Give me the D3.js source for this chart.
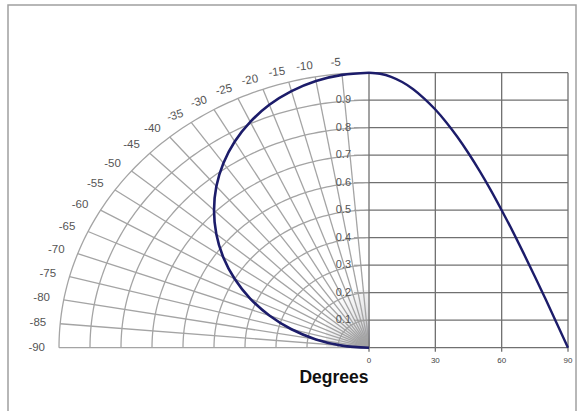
<!DOCTYPE html>
<html><head><meta charset="utf-8">
<script src="https://cdn.jsdelivr.net/npm/d3@7"></script>
<style>html,body{margin:0;padding:0;background:#fff;}svg{display:block;}</style>
</head><body>
<svg id="c" width="578" height="411"></svg>
<script>
// Data
const angles = [0,5,10,15,20,25,30,35,40,45,50,55,60,65,70,75,80,85,90];
const intensity = [1.000,0.996,0.985,0.966,0.940,0.906,0.866,0.819,0.766,0.707,0.643,0.574,0.500,0.423,0.342,0.259,0.174,0.087,0.000];
const polarAngleTicks = [-90,-85,-80,-75,-70,-65,-60,-55,-50,-45,-40,-35,-30,-25,-20,-15,-10,-5];
const radiusTicks = [0.1,0.2,0.3,0.4,0.5,0.6,0.7,0.8,0.9,1.0];
const radiusLabels = [0.1,0.2,0.3,0.4,0.5,0.6,0.7,0.8,0.9];
const xTicks = [0,30,60,90];
const xLabel = "Degrees";

const svg = d3.select("#c");
const x0 = 369, y0 = 347.7;
const x = d3.scaleLinear().domain([0,90]).range([x0,568]);
const y = d3.scaleLinear().domain([0,1]).range([y0,72.7]);
const rx = d3.scaleLinear().domain([0,1]).range([0,310]);
const ry = d3.scaleLinear().domain([0,1]).range([0,275]);
const rad = d => d*Math.PI/180;
const px = (a,r) => x0 + rx(r)*Math.sin(rad(a));
const py = (a,r) => y0 - ry(r)*Math.cos(rad(a));

// frame
svg.append("rect").attr("x",8).attr("y",5).attr("width",568).attr("height",410)
  .attr("fill","none").attr("stroke","#a0a0a0").attr("stroke-width",1.5);

// shaded area near origin
const defs = svg.append("defs");
const g1 = defs.append("linearGradient").attr("id","sh").attr("x1",0).attr("y1",0).attr("x2",1).attr("y2",1);
g1.append("stop").attr("offset","0%").attr("stop-color","#fff").attr("stop-opacity",0);
g1.append("stop").attr("offset","70%").attr("stop-color","#c8c8cc").attr("stop-opacity",0.6);
g1.append("stop").attr("offset","100%").attr("stop-color","#707090").attr("stop-opacity",0.8);
svg.append("rect").attr("x",326).attr("y",290).attr("width",44).attr("height",58).attr("fill","url(#sh)");

// polar grid arcs
const gridG = svg.append("g").attr("stroke","#a4a4a4").attr("stroke-width",1.3).attr("fill","none");
const arcAngles = d3.range(-90,0.1,1);
radiusTicks.forEach(r=>{
  gridG.append("path").attr("d", d3.line()(arcAngles.map(a=>[px(a,r),py(a,r)])));
});
// radial lines
polarAngleTicks.forEach(a=>{
  gridG.append("line").attr("x1",x0).attr("y1",y0).attr("x2",px(a,1)).attr("y2",py(a,1));
});

// polar angle labels
svg.append("g").selectAll("text").data(polarAngleTicks).join("text")
  .attr("transform",a=>{
    const lx = px(a,1) - 14*Math.abs(Math.sin(rad(a)));
    const ly = py(a,1) - 11*Math.cos(rad(a));
    const rot = a > -40 ? a*0.5 : 0;
    return `translate(${lx},${ly}) rotate(${rot})`;
  })
  .attr("text-anchor","end").attr("dominant-baseline","middle")
  .attr("font-family","Liberation Sans, Arial, sans-serif").attr("font-size",11.5)
  .attr("fill","#555").text(d=>d);

// Cartesian grid
const cg = svg.append("g").attr("stroke","#707070").attr("stroke-width",1.3);
radiusTicks.forEach(v=>{
  cg.append("line").attr("x1",x(0)).attr("x2",x(90)).attr("y1",y(v)).attr("y2",y(v));
});
radiusLabels.forEach(v=>{
  cg.append("line").attr("x1",354).attr("x2",x(0)).attr("y1",y(v)).attr("y2",y(v)).attr("stroke","#999").attr("stroke-width",1);
});
xTicks.forEach(v=>{
  cg.append("line").attr("x1",x(v)).attr("x2",x(v)).attr("y1",y(1)).attr("y2",y0+4);
});
cg.append("line").attr("x1",x(0)).attr("x2",x(90)).attr("y1",y0).attr("y2",y0);

// y labels
svg.append("g").selectAll("text").data(radiusLabels).join("text")
  .attr("x",351).attr("y",d=>y(d)).attr("text-anchor","end").attr("dominant-baseline","middle")
  .attr("font-family","Liberation Sans, Arial, sans-serif").attr("font-size",11)
  .attr("fill","#555").text(d=>d.toFixed(1));

// x labels
svg.append("g").selectAll("text").data(xTicks).join("text")
  .attr("x",d=>x(d)).attr("y",361).attr("text-anchor","middle").attr("dominant-baseline","middle")
  .attr("font-family","Liberation Sans, Arial, sans-serif").attr("font-size",8)
  .attr("fill","#444").text(d=>d);

svg.append("text").attr("x",334).attr("y",383).attr("text-anchor","middle")
  .attr("font-family","Liberation Sans, Arial, sans-serif").attr("font-weight","bold")
  .attr("font-size",17.5).attr("fill","#111").text(xLabel);

// curves
const curveColor = "#1c1c6a";
const polarPts = angles.map((a,i)=>[px(-a,intensity[i]),py(-a,intensity[i])]).reverse();
svg.append("path").attr("d",d3.line().curve(d3.curveCatmullRom)(polarPts))
  .attr("fill","none").attr("stroke",curveColor).attr("stroke-width",2.6);
const cartPts = angles.map((a,i)=>[x(a),y(intensity[i])]);
svg.append("path").attr("d",d3.line().curve(d3.curveMonotoneX)(cartPts))
  .attr("fill","none").attr("stroke",curveColor).attr("stroke-width",2.4);
</script>
</body></html>
